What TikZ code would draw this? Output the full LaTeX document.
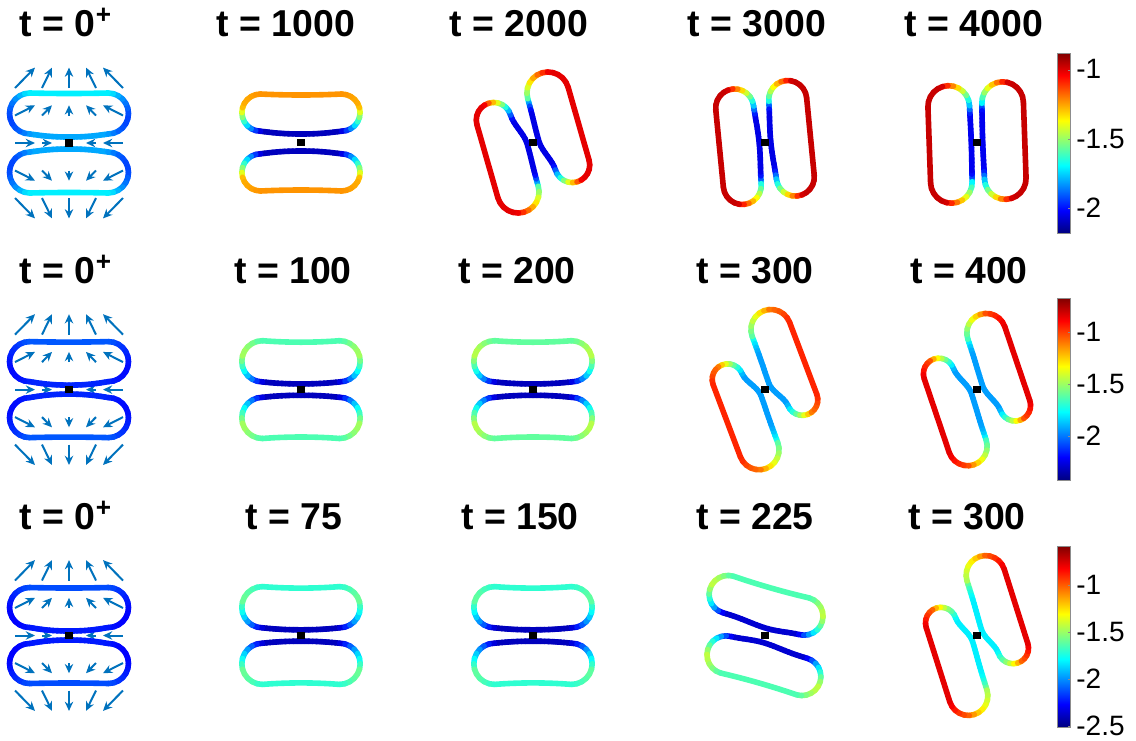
\documentclass[tikz,border=0pt]{standalone}
\usepackage{fontspec}
\setmainfont{Liberation Sans}
\usetikzlibrary{arrows.meta}

\definecolor{quiv}{rgb}{0,0.447,0.741}
\pgfdeclareverticalshading{jetbar}{100bp}{rgb(0bp)=(0,0,0.5); rgb(25bp)=(0,0,0.5); rgb(31.25bp)=(0,0,1); rgb(43.75bp)=(0,1,1); rgb(56.25bp)=(1,1,0); rgb(68.75bp)=(1,0,0); rgb(75bp)=(0.5,0,0); rgb(100bp)=(0.5,0,0)}

\tikzset{mem/.style={line width=2.8pt,line cap=round}}
\tikzset{sq/.style={fill=black,minimum size=3.7pt,inner sep=0pt}}
\tikzset{qv/.style={quiv,line width=1pt,-{Stealth[length=4.6pt,width=4.2pt]}}}
\tikzset{ttl/.style={font=\fontsize{18.7}{21}\selectfont\bfseries,anchor=base,inner sep=0pt}}
\tikzset{lab/.style={font=\fontsize{14}{16}\selectfont,anchor=west,inner sep=0pt}}
\tikzset{cbox/.style={draw=black!45,line width=0.4pt}}

% jet colour of a value in [0,1]
\newcommand{\jetset}[1]{%
  \pgfmathsetmacro{\jR}{min(max(1.5-abs(4*(#1)-3),0),1)}%
  \pgfmathsetmacro{\jG}{min(max(1.5-abs(4*(#1)-2),0),1)}%
  \pgfmathsetmacro{\jB}{min(max(1.5-abs(4*(#1)-1),0),1)}%
  \definecolor{seg}{rgb}{\jR,\jG,\jB}}

% shape: near radius, far radius, start of narrowing, half length, slide, outer distance, bump, bump width, dent
\newcommand{\vshape}[9]{\def\vRp{#1}\def\vRm{#2}\def\vXo{#3}\def\vL{#4}\def\vCu{#5}\def\vDo{#6}\def\vBp{#7}\def\vW{#8}\def\vDt{#9}}
% tint: inner, outer, ends, plateau, decay
\newcommand{\vtint}[5]{\def\vIn{#1}\def\vOut{#2}\def\vEnd{#3}\def\vPl{#4}\def\vSg{#5}}

% inner side distance at u = #1, into \nX
\newcommand{\innern}[1]{%
  \pgfmathsetmacro{\tX}{min(max(((#1)-(\vCu))/(\vL)-(\vXo),0)/(1-(\vXo)),1)}%
  \pgfmathsetmacro{\nX}{(\vDo)-2*(\vRm)-2*((\vRp)-(\vRm))*\tX*\tX*(3-2*\tX)-(\vBp)*exp(-((#1)/(\vW))*((#1)/(\vW)))*(1-(abs((#1)-(\vCu))/(\vL))^4)}}

\newcommand{\vesicle}{%
  % inner side
  \foreach \k in {0,...,19}{%
    \pgfmathsetmacro{\uA}{(\vCu)-(\vL)+(\vL)*\k/10}%
    \pgfmathsetmacro{\uB}{\uA+(\vL)/10}%
    \innern{\uA}\let\nA\nX
    \innern{\uB}\let\nB\nX
    \pgfmathsetmacro{\gT}{max(abs(\uA+(\vL)/20)-(\vPl),0)/(\vSg)}%
    \pgfmathsetmacro{\vV}{(\vOut)+((\vIn)-(\vOut))*exp(-\gT*\gT)}%
    \jetset{\vV}%
    \draw[mem,seg] (\uA,\nA) -- (\uB,\nB);
  }%
  % near end
  \pgfmathsetmacro{\tP}{max(abs((\vCu)+(\vL))-(\vPl),0)/(\vSg)}%
  \pgfmathsetmacro{\gP}{exp(-\tP*\tP)}%
  \foreach \k in {0,...,11}{%
    \pgfmathsetmacro{\aA}{-90+15*\k}%
    \pgfmathsetmacro{\aM}{\aA+7.5}%
    \pgfmathsetmacro{\vV}{(\vOut)+((\vIn)-(\vOut))*\gP*max(25-\aM,0)/115+(\vEnd)*max(cos(\aM),0)}%
    \jetset{\vV}%
    \draw[mem,seg] ({(\vCu)+(\vL)+(\vRp)*cos(\aA)},{(\vDo)-(\vRp)+(\vRp)*sin(\aA)}) -- ({(\vCu)+(\vL)+(\vRp)*cos(\aA+15)},{(\vDo)-(\vRp)+(\vRp)*sin(\aA+15)});
  }%
  % far end
  \pgfmathsetmacro{\tM}{max(abs((\vCu)-(\vL))-(\vPl),0)/(\vSg)}%
  \pgfmathsetmacro{\gM}{exp(-\tM*\tM)}%
  \foreach \k in {0,...,11}{%
    \pgfmathsetmacro{\aA}{-90+15*\k}%
    \pgfmathsetmacro{\aM}{\aA+7.5}%
    \pgfmathsetmacro{\vV}{(\vOut)+((\vIn)-(\vOut))*\gM*max(25-\aM,0)/115+(\vEnd)*max(cos(\aM),0)}%
    \jetset{\vV}%
    \draw[mem,seg] ({(\vCu)-(\vL)-(\vRm)*cos(\aA)},{(\vDo)-(\vRm)+(\vRm)*sin(\aA)}) -- ({(\vCu)-(\vL)-(\vRm)*cos(\aA+15)},{(\vDo)-(\vRm)+(\vRm)*sin(\aA+15)});
  }%
  % outer side
  \jetset{\vOut}%
  \draw[mem,seg] plot[domain=-1:1,samples=17] ({(\vCu)+(\vL)*\x},{(\vDo)-(\vDt)*(1-(\x)*(\x))});
}

\newcommand{\panel}[4]{%
  \begin{scope}[shift={(#2,-#3)},rotate=#4]\vesicle\end{scope}
  \begin{scope}[shift={(#2,-#3)},rotate=#4+180]\vesicle\end{scope}
  \node[sq] (#1) at (#2,-#3) {};}

\newcommand{\quiver}[2]{%
  \foreach \i in {-2,...,2}{\foreach \j in {-2,...,2}{%
    \pgfmathtruncatemacro{\z}{abs(\i)+abs(\j)}%
    \ifnum\z>0 \draw[qv] ({#1+27*\i},{-#2+27.5*\j}) -- ++({-10*\i},{10.2*\j});\fi}}}

\newcommand{\cbar}[2]{%
  \shade[shading=jetbar] (1057,-#1) rectangle (1070,-#2);
  \draw[cbox] (1057,-#1) rectangle (1070,-#2);}

\begin{document}
\begin{tikzpicture}[x=0.5pt,y=0.5pt]
  \useasboundingbox (0,0) rectangle (1136,-740);

  % row 1
  \quiver{69}{143}
  \vshape{20.5}{20.5}{0}{39}{0}{50}{3}{45}{0.5}\vtint{0.29}{0.36}{-0.15}{60}{30}\panel{p11}{69}{143}{0}
  \vshape{18.6}{18.6}{0}{40.5}{0}{48.5}{2.8}{45}{1}\vtint{0.06}{0.73}{-0.03}{60}{30}\panel{p12}{301}{142.5}{0}
  \vshape{17.5}{21}{0.15}{38}{-5.5}{49}{1}{25}{0}\vtint{0.10}{0.90}{0}{25}{25}\panel{p13}{533}{142.5}{106}
  \vshape{19}{19}{0}{39}{-1.6}{45.8}{2}{30}{0}\vtint{0.10}{0.93}{0}{25}{25}\panel{p14}{765}{142.5}{95.6}
  \vshape{20.8}{20.8}{0}{38}{-1}{47.8}{0.5}{30}{0}\vtint{0.11}{0.93}{0}{25}{25}\panel{p15}{977}{142.5}{92}

  % row 2
  \quiver{69}{389.6}
  \vshape{20}{20}{0}{39.5}{0}{48}{3.5}{45}{0.5}\vtint{0.16}{0.21}{-0.06}{60}{30}\panel{p21}{69}{389.6}{0}
  \vshape{20.6}{20.6}{0}{38.6}{0}{48.9}{2}{45}{1.5}\vtint{0.06}{0.45}{0.1}{60}{30}\panel{p22}{301}{389.6}{0}
  \vshape{20.6}{20.6}{0}{38.6}{0}{48.9}{2}{45}{1.5}\vtint{0.06}{0.47}{0.1}{60}{30}\panel{p23}{533}{389.6}{0}
  \vshape{15.5}{20}{0.3}{38.5}{-15.7}{46.8}{1}{25}{0}\vtint{0.28}{0.84}{-0.08}{30}{40}\panel{p24}{765}{389.6}{110.7}
  \vshape{15.5}{19.5}{0.25}{39}{-11.7}{46.5}{1}{25}{0}\vtint{0.28}{0.90}{-0.1}{30}{40}\panel{p25}{977}{389.6}{108.7}

  % row 3
  \quiver{69}{635.5}
  \vshape{20}{20}{0}{39.5}{0}{48}{3.5}{45}{0.5}\vtint{0.15}{0.20}{-0.06}{60}{30}\panel{p31}{69}{635.5}{0}
  \vshape{20.6}{20.6}{0}{38.6}{0}{48.9}{2}{45}{1.5}\vtint{0.06}{0.42}{0.07}{60}{30}\panel{p32}{301}{635.5}{0}
  \vshape{20.6}{20.6}{0}{38.6}{0}{48.9}{2}{45}{1.5}\vtint{0.06}{0.42}{0.06}{60}{30}\panel{p33}{533}{635.5}{0}
  \vshape{19}{19}{0}{39.5}{-7.3}{48.3}{3}{25}{1}\vtint{0.08}{0.45}{0.13}{45}{20}\panel{p34}{765}{635.5}{-16}
  \vshape{15.5}{19.5}{0.3}{39}{-16}{46}{1}{25}{0}\vtint{0.36}{0.90}{-0.12}{30}{40}\panel{p35}{977}{635.5}{107.6}

  % titles
  \node[ttl] (t11) at (66,-36.5) {t = 0\textsuperscript{+}};
  \node[ttl] (t12) at (286,-36.5) {t = 1000};
  \node[ttl] (t13) at (519,-36.5) {t = 2000};
  \node[ttl] (t14) at (757,-36.5) {t = 3000};
  \node[ttl] (t15) at (974,-36.5) {t = 4000};
  \node[ttl] (t21) at (66,-283.4) {t = 0\textsuperscript{+}};
  \node[ttl] (t22) at (293,-283.4) {t = 100};
  \node[ttl] (t23) at (517,-283.4) {t = 200};
  \node[ttl] (t24) at (755,-283.4) {t = 300};
  \node[ttl] (t25) at (969,-283.4) {t = 400};
  \node[ttl] (t31) at (66,-529.3) {t = 0\textsuperscript{+}};
  \node[ttl] (t32) at (294,-529.3) {t = 75};
  \node[ttl] (t33) at (520,-529.3) {t = 150};
  \node[ttl] (t34) at (755,-529.3) {t = 225};
  \node[ttl] (t35) at (967,-529.3) {t = 300};

  % colour bars
  \cbar{53}{233}
  \foreach \y in {70,139,208} \draw[cbox] (1070,-\y) -- (1067.5,-\y);
  \node[lab] (b11) at (1076,-69) {-1};
  \node[lab] (b12) at (1076,-139) {-1.5};
  \node[lab] (b13) at (1076,-208) {-2};
  \cbar{298}{480}
  \foreach \y in {332,384,436} \draw[cbox] (1070,-\y) -- (1067.5,-\y);
  \node[lab] (b21) at (1076,-332) {-1};
  \node[lab] (b22) at (1076,-384) {-1.5};
  \node[lab] (b23) at (1076,-436) {-2};
  \cbar{546}{727}
  \foreach \y in {585,632,679,726} \draw[cbox] (1070,-\y) -- (1067.5,-\y);
  \node[lab] (b31) at (1076,-585) {-1};
  \node[lab] (b32) at (1076,-632) {-1.5};
  \node[lab] (b33) at (1076,-679) {-2};
  \node[lab] (b34) at (1076,-726) {-2.5};
\end{tikzpicture}
\end{document}
